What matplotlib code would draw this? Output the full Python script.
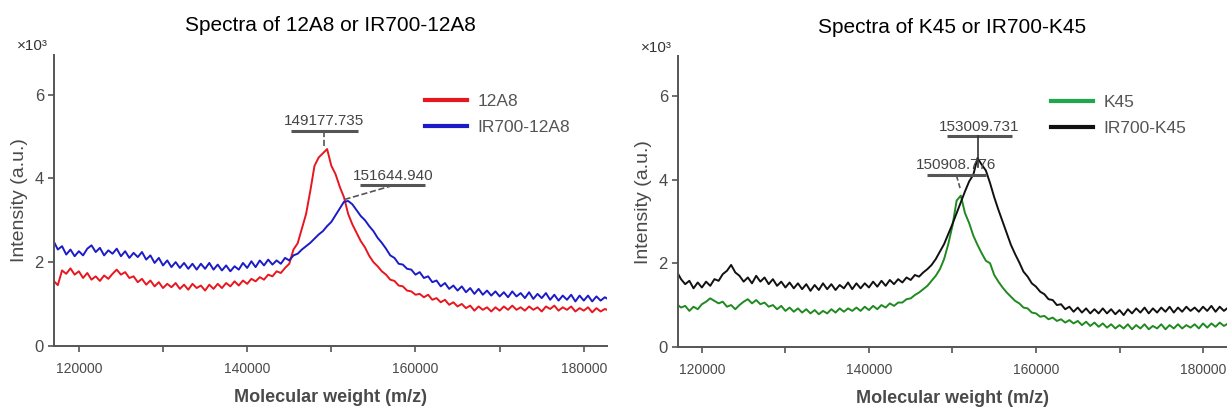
import matplotlib
matplotlib.use('Agg')
import matplotlib.pyplot as plt
from matplotlib.lines import Line2D
import numpy as np

# ---------------- data (500 m/z steps from 117000) ----------------
mz_start, mz_stop = 117000, 183000

ab_12a8 = [
    1.55, 1.45, 1.80, 1.72, 1.85, 1.70, 1.78, 1.62, 1.74, 1.58,
    1.66, 1.55, 1.68, 1.60, 1.72, 1.82, 1.70, 1.76, 1.62, 1.66,
    1.52, 1.60, 1.46, 1.56, 1.42, 1.52, 1.38, 1.48, 1.40, 1.50,
    1.36, 1.46, 1.34, 1.48, 1.38, 1.44, 1.32, 1.46, 1.36, 1.48,
    1.38, 1.50, 1.42, 1.54, 1.44, 1.56, 1.48, 1.60, 1.54, 1.64,
    1.58, 1.70, 1.66, 1.78, 1.74, 1.86, 1.96, 2.30, 2.45, 2.80,
    3.15, 3.70, 4.30, 4.50, 4.60, 4.70, 4.30, 4.10, 3.80, 3.55,
    3.15, 2.90, 2.70, 2.50, 2.35, 2.15, 2.00, 1.90, 1.78, 1.70,
    1.58, 1.55, 1.44, 1.42, 1.32, 1.30, 1.22, 1.24, 1.16, 1.22,
    1.10, 1.14, 1.04, 1.10, 0.98, 1.04, 0.94, 1.00, 0.90, 0.96,
    0.84, 0.94, 0.86, 0.92, 0.82, 0.92, 0.84, 0.94, 0.86, 0.96,
    0.86, 0.92, 0.84, 0.94, 0.86, 0.92, 0.82, 0.94, 0.88, 0.96,
    0.84, 0.92, 0.86, 0.94, 0.82, 0.90, 0.84, 0.92, 0.80, 0.90,
    0.82, 0.88, 0.84,
]

ir700_12a8 = [
    2.50, 2.30, 2.38, 2.18, 2.30, 2.14, 2.26, 2.16, 2.32, 2.40,
    2.24, 2.34, 2.16, 2.28, 2.20, 2.32, 2.14, 2.26, 2.10, 2.22,
    2.12, 2.24, 2.06, 2.16, 1.98, 2.10, 1.92, 2.04, 1.88, 2.00,
    1.86, 1.98, 1.84, 1.96, 1.82, 1.96, 1.84, 1.98, 1.82, 1.94,
    1.80, 1.92, 1.78, 1.90, 1.82, 1.98, 1.86, 2.02, 1.88, 2.04,
    1.92, 2.06, 1.94, 2.04, 1.96, 2.10, 2.04, 2.16, 2.20, 2.30,
    2.38, 2.46, 2.56, 2.66, 2.74, 2.86, 2.96, 3.12, 3.28, 3.44,
    3.46, 3.38, 3.24, 3.10, 3.00, 2.86, 2.74, 2.58, 2.46, 2.32,
    2.16, 2.10, 1.96, 1.94, 1.84, 1.82, 1.70, 1.76, 1.62, 1.66,
    1.52, 1.56, 1.42, 1.50, 1.36, 1.44, 1.32, 1.42, 1.28, 1.38,
    1.24, 1.36, 1.22, 1.32, 1.20, 1.30, 1.18, 1.28, 1.16, 1.30,
    1.18, 1.26, 1.14, 1.28, 1.12, 1.24, 1.14, 1.26, 1.10, 1.22,
    1.08, 1.20, 1.10, 1.22, 1.06, 1.20, 1.08, 1.20, 1.06, 1.18,
    1.08, 1.16, 1.10,
]

ab_k45 = [
    1.02, 0.94, 0.98, 0.86, 0.96, 0.90, 1.02, 1.08, 1.16, 1.10,
    1.04, 1.08, 0.96, 1.00, 0.90, 1.00, 1.08, 1.14, 1.04, 1.12,
    1.02, 1.06, 0.96, 1.00, 0.90, 0.98, 0.86, 0.94, 0.84, 0.92,
    0.82, 0.90, 0.80, 0.88, 0.78, 0.86, 0.80, 0.90, 0.82, 0.92,
    0.84, 0.92, 0.86, 0.94, 0.86, 0.96, 0.88, 0.98, 0.90, 1.00,
    0.94, 1.04, 0.98, 1.06, 1.06, 1.14, 1.16, 1.24, 1.30, 1.38,
    1.46, 1.58, 1.70, 1.86, 2.10, 2.46, 2.90, 3.50, 3.62, 3.20,
    2.96, 2.66, 2.44, 2.24, 2.06, 2.00, 1.72, 1.56, 1.42, 1.30,
    1.20, 1.10, 1.04, 0.94, 0.92, 0.82, 0.80, 0.72, 0.74, 0.66,
    0.70, 0.62, 0.66, 0.58, 0.64, 0.56, 0.62, 0.52, 0.60, 0.50,
    0.58, 0.48, 0.56, 0.46, 0.54, 0.44, 0.52, 0.44, 0.54, 0.42,
    0.52, 0.44, 0.54, 0.42, 0.50, 0.44, 0.54, 0.42, 0.52, 0.44,
    0.54, 0.44, 0.52, 0.46, 0.54, 0.44, 0.56, 0.46, 0.56, 0.48,
    0.58, 0.50, 0.56,
]

ir700_k45 = [
    1.80, 1.62, 1.50, 1.58, 1.40, 1.54, 1.42, 1.56, 1.46, 1.62,
    1.58, 1.74, 1.82, 1.96, 1.78, 1.70, 1.56, 1.66, 1.52, 1.70,
    1.56, 1.66, 1.50, 1.62, 1.46, 1.56, 1.42, 1.54, 1.40, 1.52,
    1.38, 1.50, 1.34, 1.48, 1.36, 1.52, 1.38, 1.50, 1.36, 1.48,
    1.40, 1.54, 1.38, 1.52, 1.40, 1.52, 1.42, 1.56, 1.44, 1.58,
    1.46, 1.60, 1.50, 1.62, 1.54, 1.66, 1.60, 1.72, 1.68, 1.78,
    1.86, 1.96, 2.10, 2.28, 2.46, 2.70, 2.94, 3.20, 3.46, 3.72,
    3.96, 4.12, 4.52, 4.36, 4.22, 3.92, 3.58, 3.28, 3.00, 2.72,
    2.44, 2.22, 2.02, 1.80, 1.68, 1.52, 1.44, 1.32, 1.26, 1.14,
    1.12, 1.00, 1.02, 0.90, 0.96, 0.84, 0.94, 0.82, 0.92, 0.80,
    0.90, 0.80, 0.92, 0.80, 0.90, 0.78, 0.88, 0.76, 0.90, 0.80,
    0.92, 0.82, 0.94, 0.80, 0.92, 0.82, 0.94, 0.84, 0.96, 0.82,
    0.94, 0.84, 0.96, 0.86, 0.94, 0.84, 0.96, 0.86, 0.98, 0.84,
    0.96, 0.86, 0.94,
]

# peak labels (m/z) and the height they were picked at
peaks_12a8 = [149177.735, 151644.940]
peak_h_12a8 = [4.72, 3.50]
peaks_k45 = [150908.776, 153009.731]
peak_h_k45 = [3.80, 4.30]

# ---------------- style ----------------
plt.rcParams['font.family'] = ['Liberation Sans', 'DejaVu Sans']
grey = '#4a4a4a'

fig = plt.figure(figsize=(12.27, 4.09), dpi=100)
ax1 = fig.add_axes([0.0437, 0.1545, 0.4513, 0.7113])
ax2 = fig.add_axes([0.5523, 0.152, 0.4477, 0.710])


def style_axes(ax, xlim):
    ax.set_xlim(*xlim)
    ax.set_ylim(0, 6.95)
    for s in ['top', 'right']:
        ax.spines[s].set_visible(False)
    for s in ['left', 'bottom']:
        ax.spines[s].set_color('#555555')
        ax.spines[s].set_linewidth(1.4)
    ax.set_xticks(np.arange(120000, 180001, 10000))
    ax.set_xticklabels(['120000', '', '140000', '', '160000', '', '180000'])
    ax.set_yticks([0, 2, 4, 6])
    ax.set_yticklabels(['0', '2', '4', '6'])
    ax.tick_params(direction='out', length=4, width=1.2, color='#555555',
                   labelcolor=grey)
    ax.tick_params(axis='x', pad=8, labelsize=10)
    ax.tick_params(axis='y', pad=3, labelsize=12)
    ax.set_xlabel('Molecular weight (m/z)', fontsize=13,
                  fontweight='bold', color=grey, labelpad=9)
    ax.set_ylabel('Intensity (a.u.)', fontsize=14, color=grey, labelpad=5)
    ax.text(-0.066, 1.03, '×10³', transform=ax.transAxes,
            fontsize=11, color='#333333', ha='left', va='center')


def peak_label(ax, x_lab, y_bar, half, txt, x_peak, y_peak, ls='--', lc='#555555'):
    ax.plot([x_lab - half, x_lab + half], [y_bar, y_bar], color='#555555', lw=2.2,
            solid_capstyle='butt')
    ax.text(x_lab, y_bar + 0.06, txt, ha='center', va='bottom',
            fontsize=11, color='#444444')
    ax.plot([x_peak if ls == '-' else x_lab, x_peak], [y_bar, y_peak],
            color=lc, lw=1.2, ls=ls)


# ---------------- left panel ----------------
x = np.linspace(mz_start, mz_stop, len(ab_12a8))
ax1.plot(x, ab_12a8, color='#e8161e', lw=1.4)
x = np.linspace(mz_start, mz_stop, len(ir700_12a8))
ax1.plot(x, ir700_12a8, color='#1b1bc8', lw=1.4)
style_axes(ax1, (117000, 182800))
ax1.set_title('Spectra of 12A8 or IR700-12A8', fontsize=15, pad=17)

peak_label(ax1, peaks_12a8[0], 5.14, 4000, f'{peaks_12a8[0]:.3f}', peaks_12a8[0], peak_h_12a8[0] + 0.05)
peak_label(ax1, 157300, 3.83, 3850, f'{peaks_12a8[1]:.3f}', peaks_12a8[1], peak_h_12a8[1])

h1 = [Line2D([], [], color='#e8161e', lw=3), Line2D([], [], color='#1b1bc8', lw=3)]
ax1.legend(h1, ['12A8', 'IR700-12A8'], loc='upper left', bbox_to_anchor=(0.643, 0.92),
           frameon=False, fontsize=12.5, handlelength=2.4, handletextpad=0.6,
           labelspacing=0.65, labelcolor='#555555')

# ---------------- right panel ----------------
x = np.linspace(mz_start, mz_stop, len(ab_k45))
ax2.plot(x, ab_k45, color='#1f8a1f', lw=1.4)
x = np.linspace(mz_start, mz_stop, len(ir700_k45))
ax2.plot(x, ir700_k45, color='#111111', lw=1.4)
style_axes(ax2, (117100, 182870))
ax2.set_title('Spectra of K45 or IR700-K45', fontsize=15, pad=17)

peak_label(ax2, 153245, 5.04, 3850, f'{peaks_k45[1]:.3f}', peaks_k45[1], peak_h_k45[1],
           ls='-', lc='#333333')
peak_label(ax2, 150450, 4.12, 3550, f'{peaks_k45[0]:.3f}', peaks_k45[0], peak_h_k45[0])

h2 = [Line2D([], [], color='#1fa84a', lw=3), Line2D([], [], color='#111111', lw=3)]
ax2.legend(h2, ['K45', 'IR700-K45'], loc='upper left', bbox_to_anchor=(0.652, 0.922),
           frameon=False, fontsize=12.5, handlelength=2.4, handletextpad=0.6,
           labelspacing=0.65, labelcolor='#555555')

fig.savefig('out.png', dpi=100)
